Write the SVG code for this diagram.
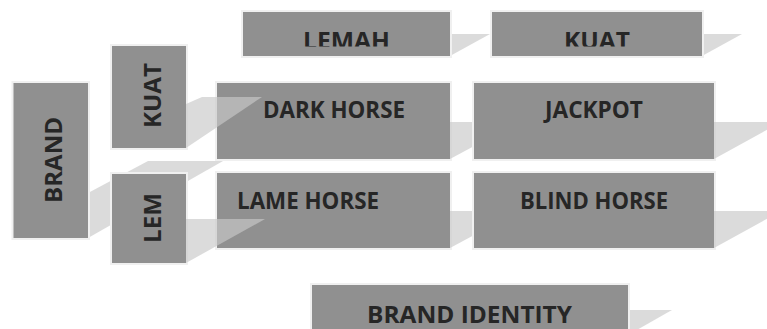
<svg xmlns="http://www.w3.org/2000/svg" width="767" height="329" viewBox="0 0 767 329">
<style>
.box{fill:#909090;stroke:#f0f0f0;stroke-width:2}
.sh{fill:#c8c8c8;fill-opacity:0.66}
.t{font-family:"Open Sans","Liberation Sans",sans-serif;font-weight:bold;font-size:23px;fill:#262626;text-anchor:middle}
</style>
<defs>
<clipPath id="topclip"><rect x="0" y="0" width="767" height="46.5"/></clipPath>
</defs>
<rect width="767" height="329" fill="#ffffff"/>
<g id="shadow-brand"><polygon class="sh" points="88,193 148,161 223,161 88,238"/></g>
<g id="brand"><rect class="box" x="12.5" y="82" width="76.5" height="157"/><text class="t" transform="translate(62,160) rotate(-90)" textLength="86" lengthAdjust="spacingAndGlyphs">BRAND</text></g>
<g id="kuat-v"><rect class="box" x="111" y="45" width="76" height="104"/><text class="t" transform="translate(161,95.5) rotate(-90)" textLength="65" lengthAdjust="spacingAndGlyphs">KUAT</text></g>
<g id="lem"><rect class="box" x="111" y="173" width="76" height="91"/><text class="t" transform="translate(161,218) rotate(-90)" textLength="50" lengthAdjust="spacingAndGlyphs">LEM</text></g>
<g id="dark-horse"><rect class="box" x="216" y="82" width="235" height="78"/><text class="t" x="334" y="118" textLength="142" lengthAdjust="spacingAndGlyphs">DARK HORSE</text></g>
<g id="lame-horse"><rect class="box" x="216" y="172" width="235" height="77"/><text class="t" x="308" y="209" textLength="142" lengthAdjust="spacingAndGlyphs">LAME HORSE</text></g>
<g id="connectors">
<polygon class="sh" points="186,104 202,97 262,97 186,148"/>
<polygon class="sh" points="186,219 265,219 186,263"/>
<polygon class="sh" points="450,122 519,122 450,159"/>
<polygon class="sh" points="450,211 519,211 450,248"/>
</g>
<g id="jackpot"><rect class="box" x="473" y="82" width="242" height="78"/><text class="t" x="594" y="118" textLength="98" lengthAdjust="spacingAndGlyphs">JACKPOT</text></g>
<g id="blind-horse"><rect class="box" x="473" y="172" width="242" height="77"/><text class="t" x="594" y="209" textLength="148" lengthAdjust="spacingAndGlyphs">BLIND HORSE</text></g>
<g id="shadows-right">
<polygon class="sh" points="714,122 781,122 714,159"/>
<polygon class="sh" points="714,211 781,211 714,248"/>
<polygon class="sh" points="450,34 490,34 450,56"/>
<polygon class="sh" points="702,34 742,34 702,56"/>
<polygon class="sh" points="628,310 672,310 628,335"/>
</g>
<g id="lemah"><rect class="box" x="242" y="11" width="209" height="46"/><text class="t" x="346.5" y="48.5" textLength="87" lengthAdjust="spacingAndGlyphs" clip-path="url(#topclip)">LEMAH</text></g>
<g id="kuat-top"><rect class="box" x="491" y="11" width="212" height="46"/><text class="t" x="597" y="48.5" textLength="66" lengthAdjust="spacingAndGlyphs" clip-path="url(#topclip)">KUAT</text></g>
<g id="brand-identity"><rect class="box" x="311" y="284" width="318" height="60"/><text class="t" x="469.5" y="323" textLength="205" lengthAdjust="spacingAndGlyphs">BRAND IDENTITY</text></g>
</svg>
